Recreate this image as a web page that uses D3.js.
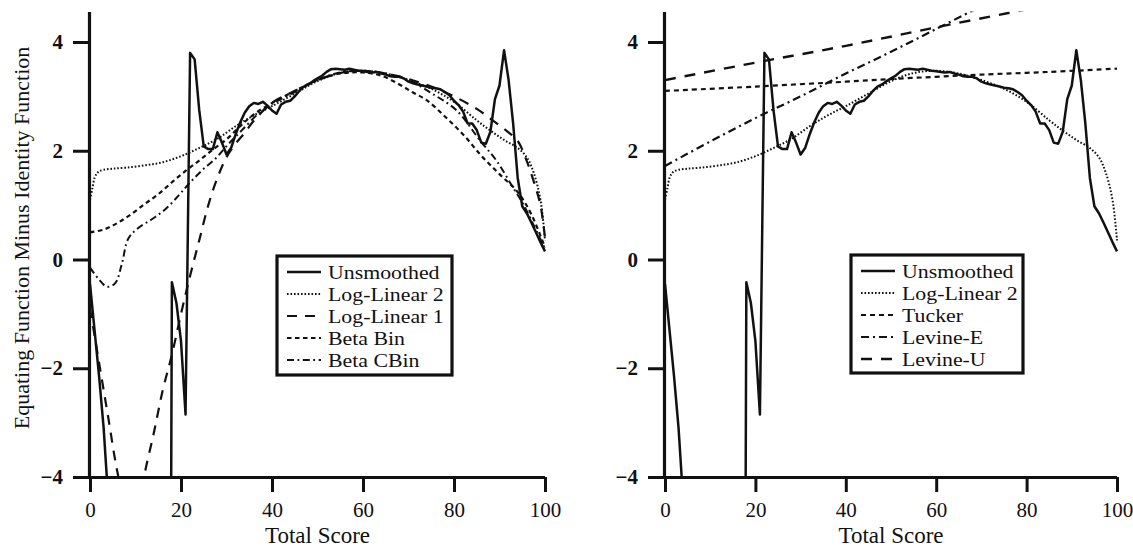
<!DOCTYPE html>
<html><head><meta charset="utf-8">
<script src="https://cdn.jsdelivr.net/npm/d3@7"></script>
<style>
body{margin:0;background:#fff;}
svg{display:block;}
text{font-family:"Liberation Serif","Times New Roman",serif;fill:#111;}
</style>
</head><body>
<svg id="c" width="1133" height="547"></svg>
<script>
// ---------- data ----------
const xTicks = [0, 20, 40, 60, 80, 100];
const yTicks = [-4, -2, 0, 2, 4];
const xTitle = "Total Score";
const yTitle = "Equating Function Minus Identity Function";

// Unsmoothed equating (score 0..100)
const unsmoothed = [
 -0.45,-1.3,-2.15,-3.1,-4.4,-5.5,-7,-8.5,-10,-11.5,
 -13,-14.5,-16,-17.5,-19,-20.5,-22,-24,-0.42,-0.8,
 -1.5,-2.85,3.8,3.68,2.75,2.08,2.03,2.03,2.34,2.15,
 1.93,2.05,2.3,2.52,2.7,2.82,2.88,2.86,2.9,2.83,
 2.74,2.68,2.85,2.9,2.92,3.0,3.1,3.18,3.22,3.28,
 3.33,3.38,3.45,3.5,3.51,3.5,3.49,3.51,3.49,3.47,
 3.46,3.45,3.44,3.45,3.42,3.4,3.37,3.36,3.36,3.33,
 3.27,3.24,3.22,3.2,3.18,3.16,3.15,3.13,3.08,3.02,
 2.92,2.84,2.72,2.5,2.5,2.38,2.15,2.13,2.35,2.95,
 3.2,3.85,3.3,2.5,1.5,0.98,0.85,0.68,0.5,0.32,
 0.15];
const unsmoothedX = unsmoothed.map((_, i) => i);

const logLin2X = [0,0.5,1,1.5,2,3,5,8,12,16,20,24,28,32,36,40,45,50,55,60,65,70,75,80,85,88,91,94,96,97.5,99,100];
const logLin2Y = [1.1,1.3,1.5,1.58,1.62,1.65,1.67,1.69,1.73,1.79,1.9,2.05,2.22,2.45,2.65,2.82,3.05,3.28,3.43,3.47,3.42,3.3,3.14,2.9,2.56,2.37,2.2,2.05,1.88,1.6,1.1,0.35];

const logLin1X = [0,2,4,6,8,9.5,11,12,14,16,18,20,22,24,26,28,30,32,34,36,40,45,50,55,60,65,70,75,80,85,88.5,91.5,94,96,97.5,99,100];
const logLin1Y = [-0.9,-1.9,-2.9,-3.9,-4.6,-4.8,-4.5,-3.95,-3.2,-2.4,-1.75,-1.0,-0.3,0.35,1.0,1.5,1.88,2.13,2.33,2.55,2.88,3.1,3.3,3.43,3.47,3.42,3.32,3.18,3.0,2.77,2.56,2.37,2.18,1.81,1.44,1.0,0.4];

const betaBinX = [0,3,6,9,12,15,18,21,24,27,30,33,36,40,45,50,55,60,64,68,71,74,78,82,86,90,94,97,100];
const betaBinY = [0.5,0.55,0.67,0.83,1.02,1.2,1.42,1.63,1.82,2.02,2.21,2.45,2.67,2.88,3.1,3.3,3.42,3.44,3.38,3.22,3.07,2.93,2.63,2.3,1.91,1.57,1.24,0.83,0.22];

const betaCBinX = [0,2,3.7,5.5,7,8.4,10.6,13.6,16.5,19.4,21.6,24.5,27.5,30.4,33.3,37,40,45,50,55,60,65,70,75,80.6,85.7,89.4,93,95.2,97.4,100];
const betaCBinY = [-0.15,-0.37,-0.5,-0.44,-0.08,0.38,0.58,0.74,0.92,1.17,1.38,1.63,1.85,2.12,2.37,2.68,2.86,3.08,3.3,3.44,3.47,3.42,3.3,3.06,2.74,2.19,1.81,1.32,1.02,0.65,0.2];

const tuckerX = [0,20,40,50,60,70,85,100];
const tuckerY = [3.1,3.18,3.27,3.32,3.36,3.4,3.45,3.51];

const levineEX = [0,10,20,30,40,50,60,70];
const levineEY = [1.72,2.17,2.6,3.0,3.42,3.82,4.24,4.66];

const levineUX = [0,20,40,60,80];
const levineUY = [3.3,3.62,3.93,4.27,4.6];

const leftNames = ["Unsmoothed","Log-Linear 2","Log-Linear 1","Beta Bin","Beta CBin"];
const rightNames = ["Unsmoothed","Log-Linear 2","Tucker","Levine-E","Levine-U"];

// ---------- styles ----------
const styles = {
  "Unsmoothed":   {dash:null, w:2.5},
  "Log-Linear 2": {dash:"1.6,1.9", w:2},
  "Log-Linear 1": {dash:"10,8", w:2.2},
  "Beta Bin":     {dash:"4.5,3.5", w:2.2},
  "Beta CBin":    {dash:"7,3.5,1.8,3.5", w:2},
  "Tucker":       {dash:"5,4", w:2.2},
  "Levine-E":     {dash:"8,4,2,4", w:2.2},
  "Levine-U":     {dash:"11,9", w:2.4}
};
const zip = (xs, ys) => xs.map((x, i) => [x, ys[i]]);
const seriesData = {
  "Unsmoothed": zip(unsmoothedX, unsmoothed),
  "Log-Linear 2": zip(logLin2X, logLin2Y),
  "Log-Linear 1": zip(logLin1X, logLin1Y),
  "Beta Bin": zip(betaBinX, betaBinY),
  "Beta CBin": zip(betaCBinX, betaCBinY),
  "Tucker": zip(tuckerX, tuckerY),
  "Levine-E": zip(levineEX, levineEY),
  "Levine-U": zip(levineUX, levineUY)
};

// ---------- layout ----------
const svg = d3.select("#c");
const yTop = 42, yBot = 477;   // pixel positions of y=4 and y=-4
const panels = [
  {id:"L", x0:90, x1:545, names:leftNames, legend:{x:277, y:256, w:175, h:119}},
  {id:"R", x0:665, x1:1117, names:rightNames, legend:{x:851, y:255, w:172, h:118}}
];

const y = d3.scaleLinear().domain([-4, 4]).range([yBot, yTop]);
const yMax = 4.56;

panels.forEach(p => {
  const x = d3.scaleLinear().domain([0, 100]).range([p.x0, p.x1]);
  const g = svg.append("g");

  // clip
  svg.append("clipPath").attr("id", "clip" + p.id)
    .append("rect")
    .attr("x", p.x0 - 1).attr("y", y(yMax))
    .attr("width", p.x1 - p.x0 + 6).attr("height", y(-4) - y(yMax));

  // series
  const line = d3.line().x(d => x(d[0])).y(d => y(d[1]));
  const lineSmooth = d3.line().x(d => x(d[0])).y(d => y(d[1])).curve(d3.curveCatmullRom.alpha(0.5));
  const lg = g.append("g").attr("clip-path", `url(#clip${p.id})`);
  p.names.slice().reverse().forEach(name => {
    const st = styles[name];
    lg.append("path")
      .attr("d", (name === "Unsmoothed" ? line : lineSmooth)(seriesData[name]))
      .attr("fill", "none").attr("stroke", "#111")
      .attr("stroke-width", st.w)
      .attr("stroke-dasharray", st.dash)
      .attr("stroke-linejoin", "round");
  });

  // y axis
  const yAxisScale = d3.scaleLinear().domain([-4, yMax]).range([y(-4), y(yMax)]);
  const ya = g.append("g").attr("transform", `translate(${p.x0 - 1},0)`)
    .call(d3.axisLeft(yAxisScale).tickValues(yTicks).tickSize(16).tickSizeOuter(0).tickPadding(10)
      .tickFormat(d3.format("d")));
  ya.select(".domain").attr("stroke", "#111").attr("stroke-width", 3.2);
  ya.selectAll(".tick line").attr("stroke", "#111").attr("stroke-width", 3);
  ya.selectAll(".tick text").style("font-size", "21px").style("font-family", "Liberation Serif, serif")
    .style("font-weight", "bold").attr("fill", "#111");

  // x axis
  const xAxisScale = d3.scaleLinear().domain([0, 100]).range([p.x0, p.x1]);
  const xa = g.append("g").attr("transform", `translate(0,${yBot})`)
    .call(d3.axisBottom(xAxisScale).tickValues(xTicks).tickSize(15).tickSizeOuter(0).tickPadding(10));
  xa.select(".domain").attr("stroke", "#111").attr("stroke-width", 3)
    .attr("d", `M${p.x0 - 4},0.5H${p.x1}`);
  xa.selectAll(".tick line").attr("stroke", "#111").attr("stroke-width", 3);
  xa.selectAll(".tick text").style("font-size", "21px").style("font-family", "Liberation Serif, serif")
    .attr("fill", "#111");

  // x title
  g.append("text").attr("x", (p.x0 + p.x1) / 2).attr("y", 543)
    .attr("text-anchor", "middle").style("font-size", "23px").text(xTitle);

  // legend
  const L = p.legend;
  const lgd = g.append("g");
  lgd.append("rect").attr("x", L.x).attr("y", L.y).attr("width", L.w).attr("height", L.h)
    .attr("fill", "#fff").attr("stroke", "#111").attr("stroke-width", 3.2);
  p.names.forEach((name, i) => {
    const ry = L.y + 16 + i * 22;
    const st = styles[name];
    lgd.append("line").attr("x1", L.x + 10).attr("x2", L.x + 44).attr("y1", ry).attr("y2", ry)
      .attr("stroke", "#111").attr("stroke-width", st.w).attr("stroke-dasharray", st.dash);
    lgd.append("text")
      .attr("transform", `translate(${L.x + 51},${ry + 7}) scale(1.12,1)`)
      .style("font-size", "19.5px").text(name);
  });
});

// y title (left panel only)
svg.append("text")
  .attr("transform", "translate(29,238) rotate(-90)")
  .attr("text-anchor", "middle").style("font-size", "22px").text(yTitle);
</script>
</body></html>
